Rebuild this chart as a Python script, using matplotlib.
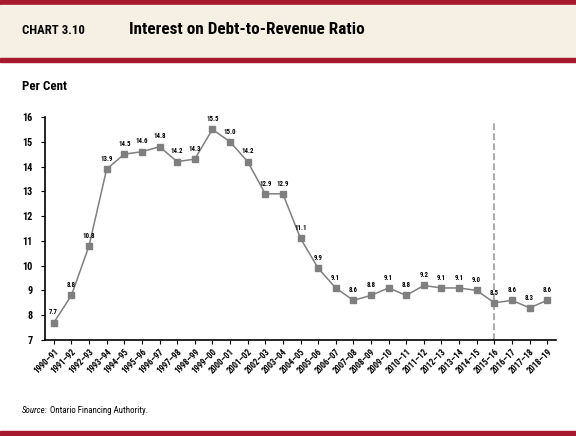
import matplotlib
matplotlib.use("Agg")
import matplotlib.pyplot as plt
from matplotlib import font_manager
from matplotlib.patches import Rectangle

years = ["1990–91", "1991–92", "1992–93", "1993–94", "1994–95", "1995–96", "1996–97",
         "1997–98", "1998–99", "1999–00", "2000–01", "2001–02", "2002–03", "2003–04",
         "2004–05", "2005–06", "2006–07", "2007–08", "2008–09", "2009–10", "2010–11",
         "2011–12", "2012–13", "2013–14", "2014–15", "2015–16", "2016–17", "2017–18",
         "2018–19"]
ratio = [7.7, 8.8, 10.8, 13.9, 14.5, 14.6, 14.8, 14.2, 14.3, 15.5, 15.0, 14.2, 12.9, 12.9,
         11.1, 9.9, 9.1, 8.6, 8.8, 9.1, 8.8, 9.2, 9.1, 9.1, 9.0, 8.5, 8.6, 8.3, 8.6]
yticks = [7, 8, 9, 10, 11, 12, 13, 14, 15, 16]
forecast_start = "2015–16"

bold_fams = {f.name for f in font_manager.fontManager.ttflist
             if isinstance(f.weight, int) and f.weight >= 700 or f.weight == "bold"}
candidates = ["Liberation Sans Narrow", "Arial Narrow", "Roboto Condensed",
              "Barlow Semi Condensed", "Asap Condensed", "Encode Sans Semi Condensed",
              "Liberation Sans"]
fam = next(c for c in candidates if c in bold_fams)
plt.rcParams['font.family'] = [fam, 'DejaVu Sans']

RED = "#A6192E"
BEIGE = "#F6EFE3"
GRAY = "#7F7F7F"

fig = plt.figure(figsize=(5.76, 4.36), dpi=100)
W, H = 576, 436
renderer = fig.canvas.get_renderer()


def fy(py):
    return 1 - py / H


def fit_size(text, target_px, weight="normal", style="normal", base=10):
    t = fig.text(0, 0, text, fontsize=base, fontweight=weight, style=style)
    w = t.get_window_extent(renderer).width
    t.remove()
    return base * target_px / w


# header bands
fig.patches.append(Rectangle((0, fy(5)), 1, 5 / H, transform=fig.transFigure, color=RED, zorder=0))
fig.patches.append(Rectangle((0, fy(58)), 1, 53 / H, transform=fig.transFigure, color=BEIGE, zorder=0))
fig.patches.append(Rectangle((0, fy(62)), 1, 4 / H, transform=fig.transFigure, color=RED, zorder=0))
fig.patches.append(Rectangle((0, fy(436)), 1, 5 / H, transform=fig.transFigure, color=RED, zorder=0))

fig.text(22 / W, fy(31), "CHART 3.10", fontsize=fit_size("CHART 3.10", 63, "bold"),
         fontweight="bold", va="center", ha="left")
title = "Interest on Debt-to-Revenue Ratio"
fig.text(129 / W, fy(30), title, fontsize=fit_size(title, 234, "bold"), fontweight="bold",
         va="center", ha="left")
fig.text(22 / W, fy(86), "Per Cent", fontsize=fit_size("Per Cent", 45, "bold"),
         fontweight="bold", va="center", ha="left")
src_size = fit_size("Source: Ontario Financing Authority.", 126)
src = fig.text(22 / W, fy(410), "Source:", fontsize=src_size, style="italic", va="center", ha="left")
src_w = src.get_window_extent(renderer).width
fig.text((22 + src_w + 2) / W, fy(410), "Ontario Financing Authority.", fontsize=src_size,
         va="center", ha="left")

ax = fig.add_axes([45 / W, fy(340), (556 - 45) / W, (340 - 117) / H])
x = list(range(len(years)))
ax.plot(x, ratio, color=GRAY, lw=1.1, marker="s", ms=4, mfc=GRAY, mec=GRAY, zorder=3)
lab_size = fit_size("15.5", 12.5, "bold")
for xi, v in zip(x, ratio):
    ax.annotate(f"{v:.1f}", (xi, v), xytext=(0, 4.5), textcoords="offset points",
                ha="center", va="bottom", fontsize=lab_size, fontweight="bold")

fi = years.index(forecast_start)
ax.plot([fi, fi], [7, 15.76], color="#9A9A9A", lw=1.2, ls=(0, (4, 2)), zorder=2)

ax.set_xlim(-0.5, len(years) - 0.5)
ax.set_ylim(7, 16)
ax.set_yticks(yticks)
ax.set_yticklabels([str(t) for t in yticks], fontsize=fit_size("16", 10.5, "bold"), fontweight="bold")
ax.set_xticks(x)
ax.set_xticklabels(years, rotation=45, ha="right", rotation_mode="anchor",
                   fontsize=fit_size("1990–91", 31, "bold"), fontweight="bold")
for s in ["top", "right"]:
    ax.spines[s].set_visible(False)
ax.spines["left"].set_linewidth(1.2)
ax.spines["bottom"].set_linewidth(1.2)
ax.tick_params(axis="x", length=3, width=0.8, pad=2)
ax.tick_params(axis="y", length=3, width=0.8, pad=6)

fig.savefig("out.png", dpi=100)
